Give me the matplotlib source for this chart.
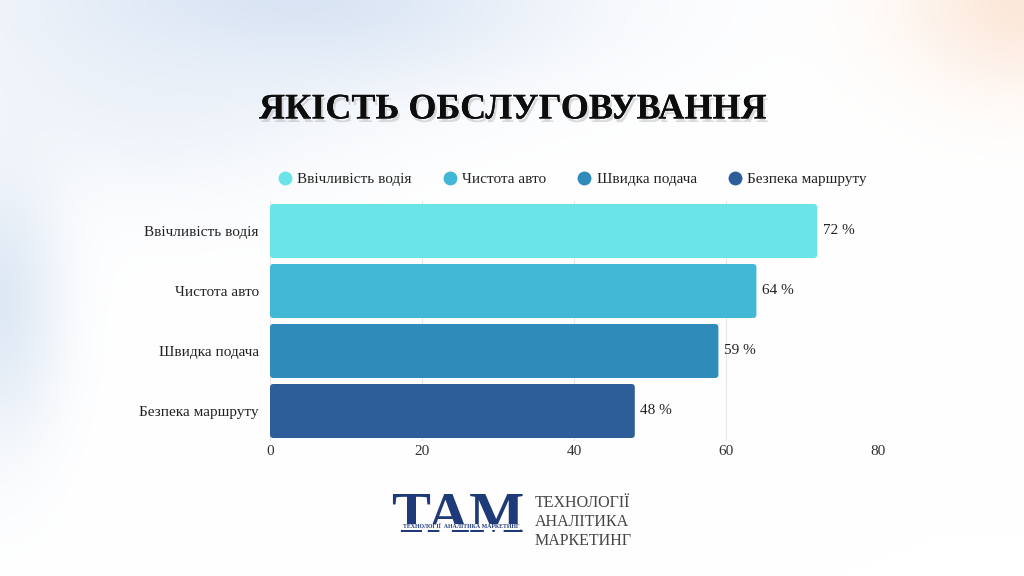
import numpy as np
import matplotlib
matplotlib.use("Agg")
import matplotlib.pyplot as plt
from matplotlib.patches import FancyBboxPatch
from matplotlib.lines import Line2D
import matplotlib.patheffects as pe

categories = ["Ввічливість водія", "Чистота авто", "Швидка подача", "Безпека маршруту"]
values = [72, 64, 59, 48]
value_labels = ["72 %", "64 %", "59 %", "48 %"]
colors = ["#6BE4E8", "#42B7D6", "#2E8BBA", "#2D5E99"]
xticks = [0, 20, 40, 60, 80]
title = "ЯКІСТЬ ОБСЛУГОВУВАННЯ"

SERIF = ["Liberation Serif", "DejaVu Serif"]

fig = plt.figure(figsize=(10.24, 5.76), dpi=100)

# background gradient
bg = fig.add_axes([0, 0, 1, 1], zorder=-10)
H, W = 576, 1024
yy, xx = np.mgrid[0:H, 0:W]
img = np.ones((H, W, 3))
def blob(cx, cy, sx, sy, col, strength):
    g = np.exp(-(((xx - cx) / sx) ** 2 + ((yy - cy) / sy) ** 2)) * strength
    for k in range(3):
        img[..., k] = img[..., k] * (1 - g) + col[k] * g
blob(280, 0, 280, 90, (0.83, 0.88, 0.95), 0.9)
blob(0, 300, 60, 140, (0.84, 0.89, 0.95), 0.8)
blob(1024, 0, 120, 90, (0.99, 0.90, 0.84), 0.9)
blob(150, 100, 200, 100, (0.90, 0.93, 0.97), 0.6)
bg.imshow(img, aspect="auto", extent=[0, 1, 0, 1])
bg.axis("off")

ax = fig.add_axes([270 / 1024, 1 - 441 / 576, 608 / 1024, 240 / 576])
ax.set_facecolor("none")
y = np.arange(len(categories))
bars = ax.barh(y, values, height=0.9, color=colors, zorder=3)
ax.set_xlim(0, 80)
ax.set_ylim(len(categories) - 0.5, -0.5)

# replace with rounded bars
for b, c in zip(bars, colors):
    x0, y0 = b.get_x(), b.get_y()
    w, h = b.get_width(), b.get_height()
    b.set_visible(False)
    p = FancyBboxPatch((x0, y0), w, h, boxstyle="round,pad=0,rounding_size=0.45",
                       mutation_aspect=7.6 / 60, facecolor=c, edgecolor="none", zorder=3)
    ax.add_patch(p)

for yi, v, lab in zip(y, values, value_labels):
    ax.text(v + 0.7, yi, lab, va="center", ha="left", fontsize=11,
            family=SERIF, color="#222222")

ax.set_xticks(xticks)
ax.set_xticklabels([str(t) for t in xticks], family=SERIF, fontsize=11, color="#333333")
ax.set_yticks(y)
ax.set_yticklabels(categories, family=SERIF, fontsize=11, color="#222222")
ax.tick_params(axis="x", length=0, pad=3)
ax.tick_params(axis="y", length=0, pad=8)
ax.grid(axis="x", color="#e6e6e6", linewidth=0.8, zorder=0)
for s in ax.spines.values():
    s.set_visible(False)

# legend
handles = [Line2D([], [], marker="o", linestyle="none", markersize=10,
                  markerfacecolor=c, markeredgecolor="none") for c in colors]
leg = fig.legend(handles, categories, loc="center", bbox_to_anchor=(572 / 1024, 1 - 179 / 576),
                 ncol=4, frameon=False, prop={"family": SERIF, "size": 11},
                 handletextpad=0.3, columnspacing=2.0, handlelength=1.0)
for t in leg.get_texts():
    t.set_color("#222222")

# title
fig.text(513 / 1024, 1 - 110 / 576, title, ha="center", va="center",
         fontsize=26, fontweight="bold", family=SERIF, color="#0d0d0d",
         path_effects=[pe.withSimplePatchShadow(offset=(1.5, -2.5), shadow_rgbFace="#9a9a9a", alpha=0.35),
                       pe.Normal()])

# logo
fig.text(458 / 1024, 1 - 518 / 576, "ТАМ", ha="center", va="center",
         fontsize=42, fontweight="bold", family=SERIF, color="#1F3A78")
fig.text(461 / 1024, 1 - 527 / 576, "ТЕХНОЛОГІЇ  АНАЛІТИКА МАРКЕТИНГ", ha="center", va="center",
         fontsize=4.2, fontweight="bold", family=SERIF, color="#1F3A78",
         bbox=dict(facecolor="white", edgecolor="none", pad=0.5))
for i, line in enumerate(["ТЕХНОЛОГІЇ", "АНАЛІТИКА", "МАРКЕТИНГ"]):
    fig.text(535 / 1024, 1 - (503 + i * 19) / 576, line, ha="left", va="center",
             fontsize=11.5, family=SERIF, color="#444444")

fig.savefig("out.png", dpi=100)
